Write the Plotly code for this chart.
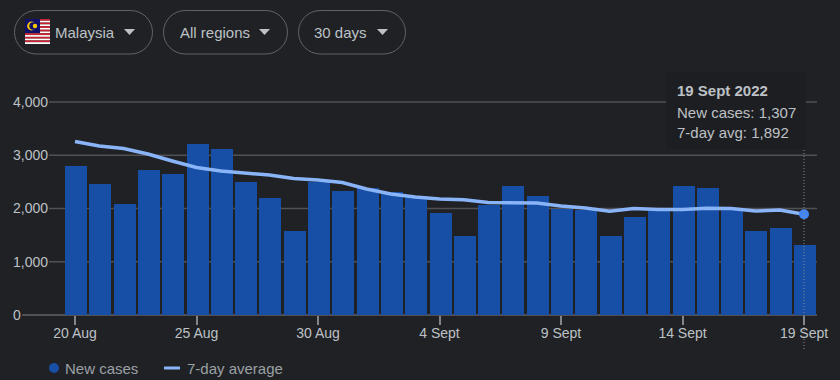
import base64
from datetime import date, timedelta
import plotly.graph_objects as go

# --- data ---
start_date = "2022-08-20"
new_cases = [2800, 2460, 2078, 2723, 2640, 3211, 3117, 2497, 2197, 1577,
             2500, 2338, 2385, 2310, 2235, 1912, 1484, 2075, 2428, 2235,
             1990, 1970, 1484, 1846, 1953, 2432, 2385, 1990, 1577, 1640, 1307]
avg_7d = [3258, 3174, 3127, 3023, 2892, 2770, 2704, 2667, 2629, 2563,
          2535, 2488, 2366, 2272, 2216, 2178, 2165, 2113, 2116, 2103,
          2047, 2009, 1947, 2000, 1981, 1981, 2003, 2000, 1953, 1972, 1892]
x_tick_idx = [0, 5, 10, 15, 20, 25, 30]
x_tick_labels = ["20 Aug", "25 Aug", "30 Aug", "4 Sept", "9 Sept", "14 Sept", "19 Sept"]
y_ticks = [0, 1000, 2000, 3000, 4000]
y_tick_labels = ["0", "1,000", "2,000", "3,000", "4,000"]
buttons = ["Malaysia", "All regions", "30 days"]
legend_labels = ["New cases", "7-day average"]
tooltip_lines = ["19 Sept 2022", "New cases: 1,307", "7-day avg: 1,892"]

# --- style ---
W, H = 840, 380
BG = "#202124"
FONT = "Liberation Sans"
TXT = "#bdc1c6"
LEG = "#9aa0a6"
BAR = "#174ea6"
LINE = "#8ab4f8"
DOT = "#4285f4"
GRID = "#505154"

def X(px): return px / W
def Y(py): return 1 - py / H

d0 = date.fromisoformat(start_date)
dates = [(d0 + timedelta(days=i)).isoformat() for i in range(len(new_cases))]
day_px = 24.3
x_left, x_right = 10, 817
first_px = 75
DAY_MS = 86400000
px_per_unit = 213 / 4000
y_top_px, y_bot_px, y_zero_px = 90, 330, 315

def dstr(days):
    dt = d0.toordinal() + days
    whole = int(dt // 1)
    frac = dt - whole
    return date.fromordinal(whole).isoformat() + f" {int(frac*24):02d}:{int((frac*24%1)*60):02d}:00"
x_range = [dstr((x_left - first_px) / day_px), dstr((x_right - first_px) / day_px)]
y_range = [-(y_bot_px - y_zero_px) / px_per_unit, (y_zero_px - y_top_px) / px_per_unit]

bar_w = 22 / day_px * DAY_MS
bar_shift = 1 / day_px * DAY_MS

fig = go.Figure()
fig.add_bar(x=dates, y=new_cases, width=bar_w, offset=-bar_w / 2 + bar_shift,
            marker=dict(color=BAR, line=dict(width=0)), name=legend_labels[0], showlegend=False)
fig.add_scatter(x=dates, y=avg_7d, mode="lines", line=dict(color=LINE, width=3.5),
                name=legend_labels[1], showlegend=False)
fig.add_scatter(x=dates[-1:], y=avg_7d[-1:], mode="markers",
                marker=dict(color=DOT, size=10), showlegend=False)

shapes = []
for v, lab in zip(y_ticks, y_tick_labels):
    shapes.append(dict(type="line", xref="paper", yref="y", layer="below",
                       x0=X(22 if v == 0 else 49), x1=X(x_right), y0=v, y1=v,
                       line=dict(color=GRID, width=1.5 if v else 2)))
shapes.append(dict(type="line", xref="x", yref="paper", x0=dates[-1], x1=dates[-1],
                   y0=Y(150), y1=Y(350), line=dict(color="#8a8c90", width=1, dash="1px,2px")))
shapes.append(dict(type="rect", xref="paper", yref="paper", x0=X(666), x1=X(806), y0=Y(149), y1=Y(72),
                   fillcolor="#1d1e21", line=dict(width=0)))

def pill(x0, x1, y0, y1):
    r = (y1 - y0) / 2
    k = r * 0.45
    p = [f"M{X(x0+r)},{Y(y0)}", f"L{X(x1-r)},{Y(y0)}",
         f"C{X(x1-k)},{Y(y0)} {X(x1)},{Y(y0+k)} {X(x1)},{Y(y0+r)}",
         f"C{X(x1)},{Y(y1-k)} {X(x1-k)},{Y(y1)} {X(x1-r)},{Y(y1)}",
         f"L{X(x0+r)},{Y(y1)}",
         f"C{X(x0+k)},{Y(y1)} {X(x0)},{Y(y1-k)} {X(x0)},{Y(y0+r)}",
         f"C{X(x0)},{Y(y0+k)} {X(x0+k)},{Y(y0)} {X(x0+r)},{Y(y0)}", "Z"]
    return dict(type="path", xref="paper", yref="paper", path=" ".join(p),
                line=dict(color="#5f6368", width=1), fillcolor="rgba(0,0,0,0)")

def tri(x0, x1, y0, y1):
    p = f"M{X(x0)},{Y(y0)} L{X(x1)},{Y(y0)} L{X((x0+x1)/2)},{Y(y1)} Z"
    return dict(type="path", xref="paper", yref="paper", path=p, fillcolor=TXT, line=dict(width=0))

btn_boxes = [(14.5, 152.5, 55), (163.5, 287.5, 180), (298.5, 405.5, 314)]
tri_x = [124, 259, 377]
for (x0, x1, _), tx in zip(btn_boxes, tri_x):
    shapes.append(pill(x0, x1, 10.5, 54))
    shapes.append(tri(tx, tx + 11, 29, 35))

shapes.append(dict(type="circle", xref="paper", yref="paper", x0=X(49), x1=X(59), y0=Y(373), y1=Y(363),
                   fillcolor=BAR, line=dict(width=0)))
shapes.append(dict(type="line", xref="paper", yref="paper", x0=X(164), x1=X(180), y0=Y(368), y1=Y(368),
                   line=dict(color=LINE, width=3)))

def label(text, px, py, size=15, color=TXT):
    return dict(text=text, xref="paper", yref="paper", x=X(px), y=Y(py), xanchor="left", yanchor="middle",
                showarrow=False, xshift=-2, font=dict(family=FONT, size=size, color=color))

ann = [label(b, box[2], 32) for b, box in zip(buttons, btn_boxes)]
ann += [label(legend_labels[0], 65, 368, color=LEG), label(legend_labels[1], 187, 368, color=LEG)]
ann += [label(f"<b>{tooltip_lines[0]}</b>", 677, 91), label(tooltip_lines[1], 677, 112), label(tooltip_lines[2], 677, 132)]

stripes = "".join(f'<rect x="0" y="{i*25/14:.3f}" width="25" height="{25/14:.3f}" fill="{"#cc1f2f" if i%2==0 else "#ffffff"}"/>' for i in range(14))
flag = (f'<svg xmlns="http://www.w3.org/2000/svg" width="25" height="25" viewBox="0 0 25 25">{stripes}'
        '<rect width="15" height="14" fill="#10106a"/>'
        '<circle cx="6.5" cy="7" r="4.4" fill="#f7c600"/><circle cx="8" cy="7" r="3.7" fill="#10106a"/>'
        '<circle cx="10" cy="7" r="2.2" fill="#f7c600"/></svg>')
flag_uri = "data:image/svg+xml;base64," + base64.b64encode(flag.encode()).decode()

fig.update_layout(
    width=W, height=H, margin=dict(l=0, r=0, t=0, b=0, pad=0), autosize=False,
    paper_bgcolor=BG, plot_bgcolor="rgba(0,0,0,0)", hovermode=False, bargap=0,
    font=dict(family=FONT, size=14, color=TXT),
    xaxis=dict(domain=[X(x_left), X(x_right)], range=x_range, type="date", showgrid=False, zeroline=False,
               automargin=False, showline=False, anchor="free", position=Y(y_zero_px), tickmode="array",
               tickvals=[dates[i] for i in x_tick_idx], ticklabelstandoff=-4,
               ticktext=x_tick_labels, ticks="outside", ticklen=9, tickwidth=1.5, tickcolor="#80868b",
               tickfont=dict(family=FONT, size=14, color=TXT)),
    yaxis=dict(domain=[Y(y_bot_px), Y(y_top_px)], range=y_range, showgrid=False, zeroline=False, showline=False,
               automargin=False, tickmode="array", tickvals=y_ticks, ticktext=y_tick_labels, ticks="",
               ticklabelposition="inside", tickfont=dict(family=FONT, size=14, color=TXT)),
    shapes=shapes, annotations=ann,
    images=[dict(source=flag_uri, xref="paper", yref="paper", x=X(25), y=Y(19), sizex=25/W, sizey=25/H,
                 xanchor="left", yanchor="top", sizing="stretch", layer="above")],
)
fig.write_html("out.html", config=dict(displayModeBar=False),
               post_script="document.body.style.margin='0';")
